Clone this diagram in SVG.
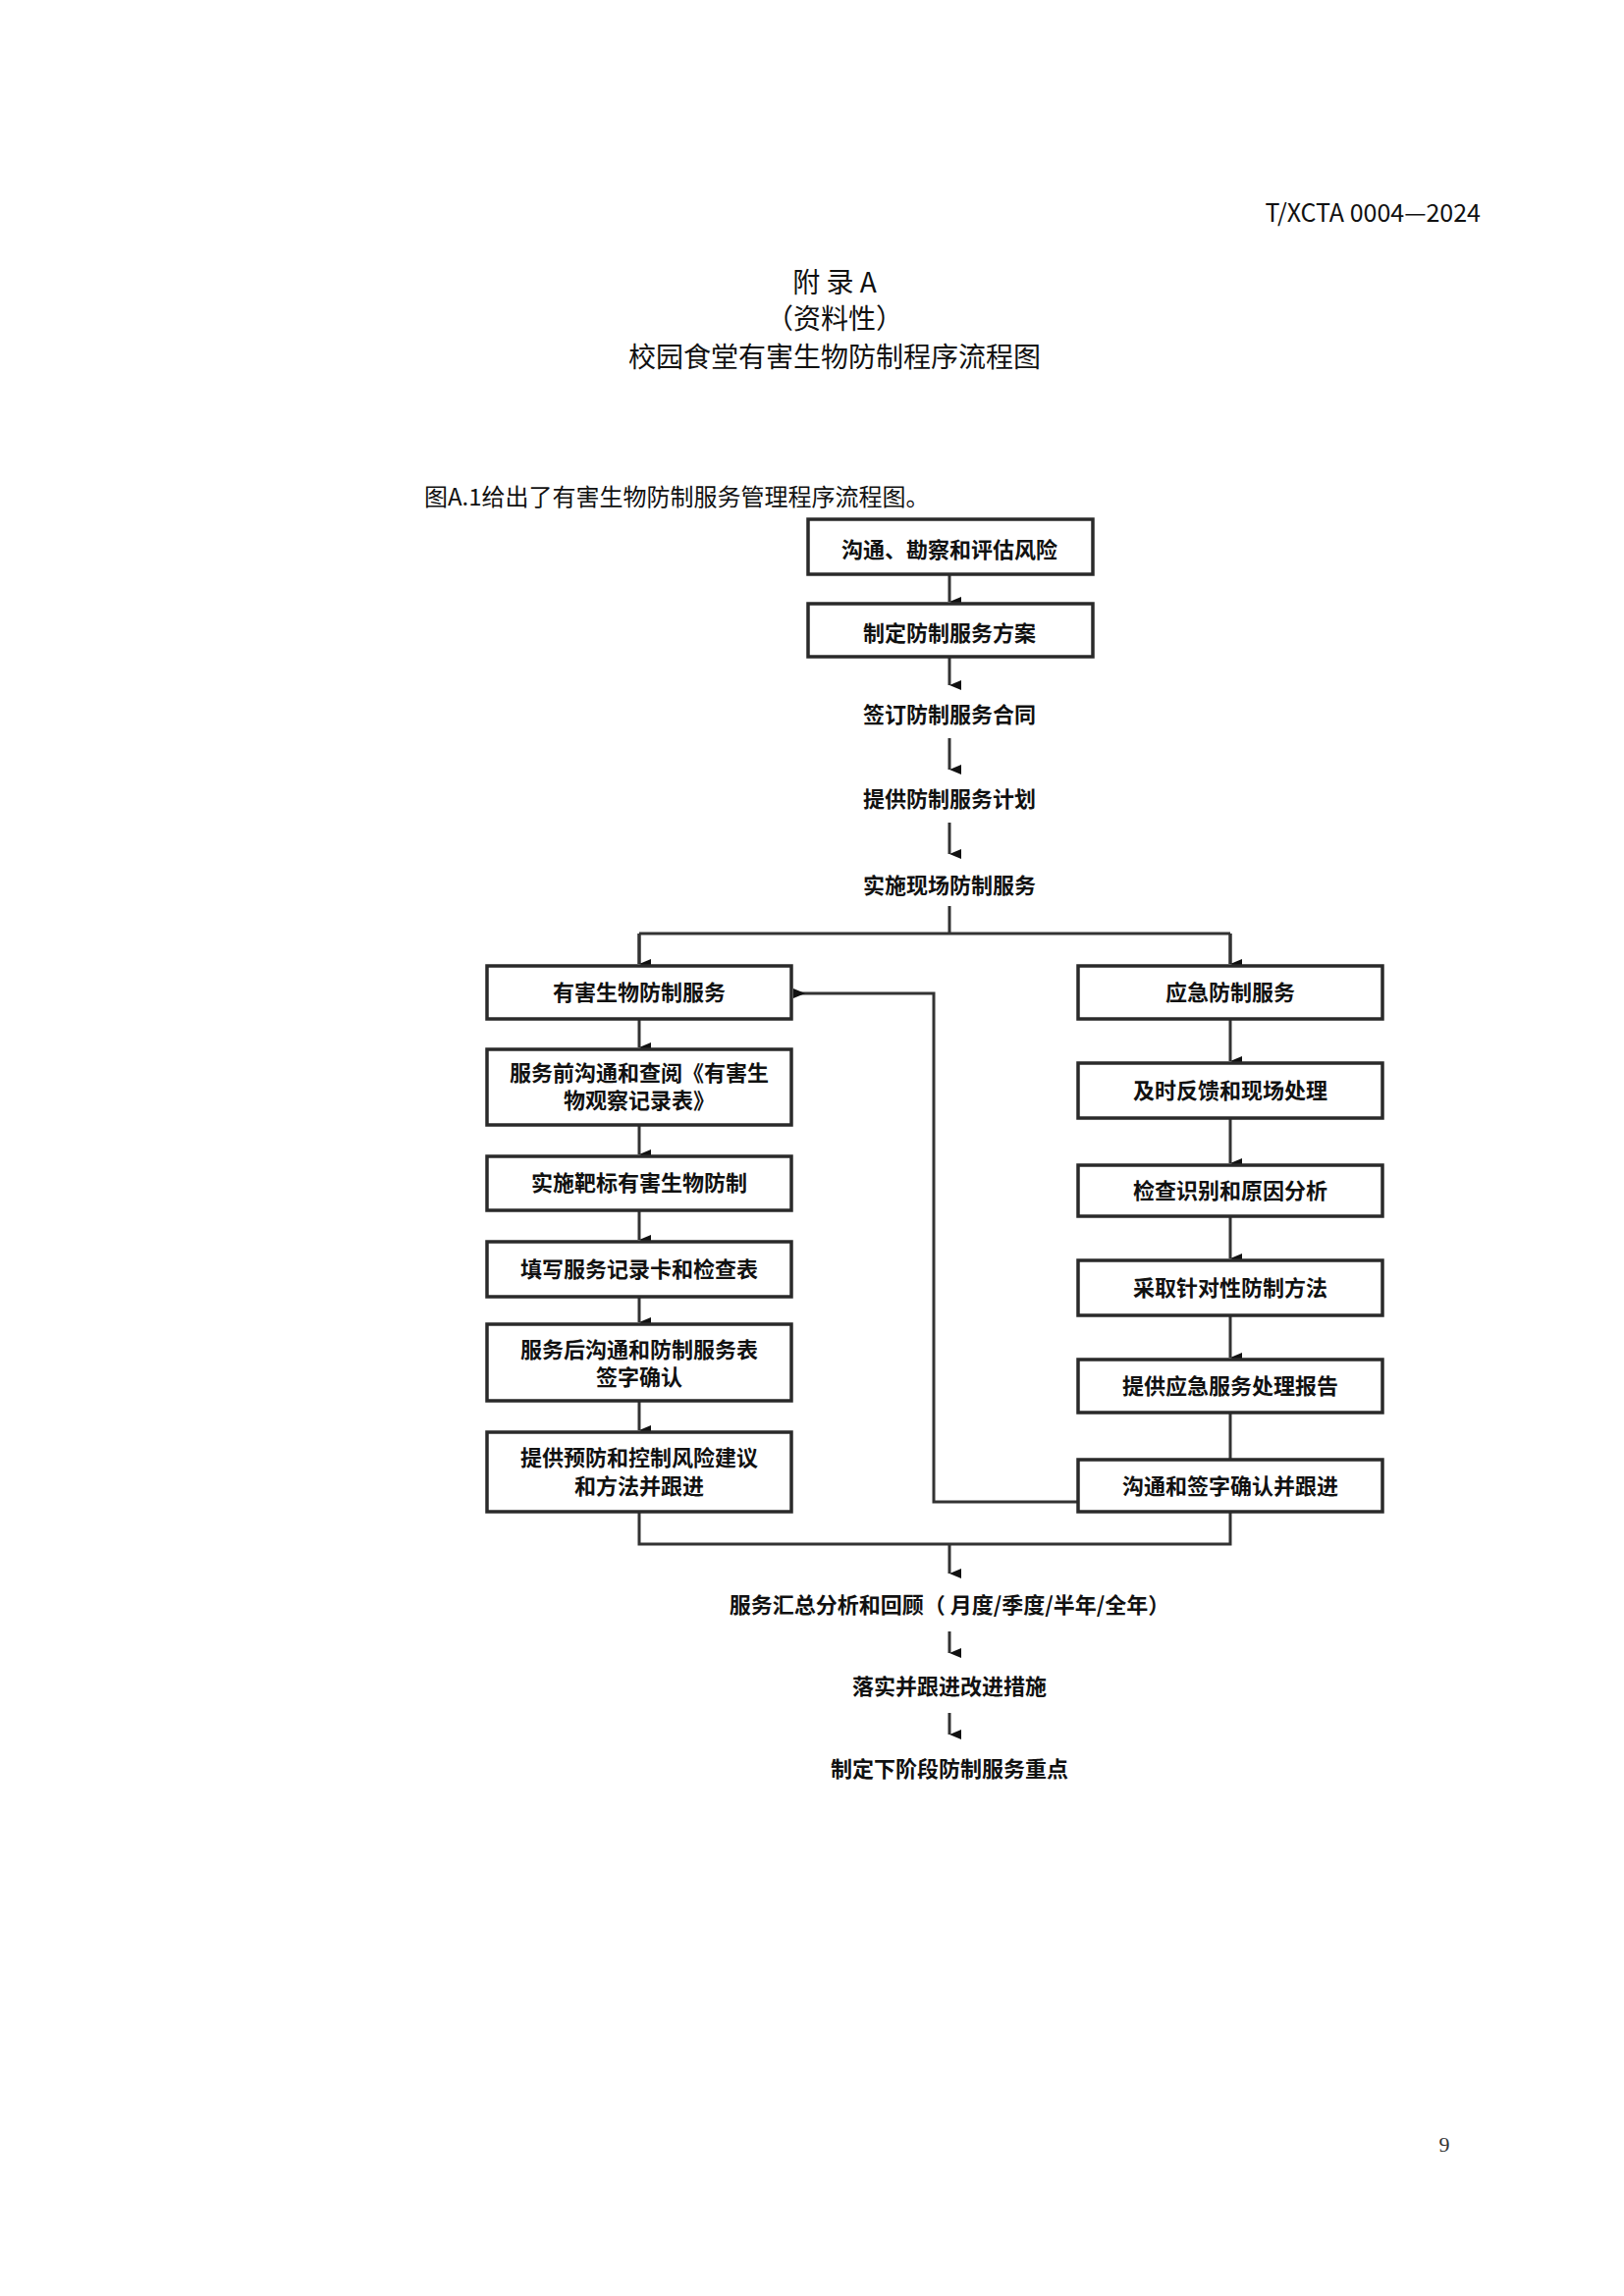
<svg xmlns="http://www.w3.org/2000/svg" width="1654" height="2339" viewBox="0 0 1654 2339">
<style>
.b{fill:#fff;stroke:#2a2a2a;stroke-width:3.5}
.t{font-family:"Noto Sans CJK SC",sans-serif;font-weight:bold;font-size:22px;fill:#111;text-anchor:middle}
.h{font-family:"Noto Sans CJK SC",sans-serif;fill:#111}
.c{fill:none;stroke:#333;stroke-width:3}
</style>
<defs><marker id="a" markerWidth="10" markerHeight="12" refX="5" refY="12" orient="auto-start-reverse" markerUnits="userSpaceOnUse" viewBox="0 0 10 12"><path d="M0,0 L10,0 L5,12 z" fill="#111"/></marker>
<marker id="l" markerWidth="12" markerHeight="10" refX="12" refY="5" orient="auto" markerUnits="userSpaceOnUse" viewBox="0 0 12 10"><path d="M12,5 L0,0 L0,10 z" fill="#111" transform="rotate(180 6 5)"/></marker></defs>
<rect width="1654" height="2339" fill="#fff"/>
<text class="h" x="1508" y="226" font-size="25" text-anchor="end">T/XCTA 0004—2024</text>
<text class="h" x="850" y="298" font-size="28" text-anchor="middle">附  录  A</text>
<text class="h" x="850" y="335" font-size="28" text-anchor="middle">（资料性）</text>
<text class="h" x="850" y="374" font-size="28" text-anchor="middle">校园食堂有害生物防制程序流程图</text>
<text class="h" x="432" y="515" font-size="24">图A.1给出了有害生物防制服务管理程序流程图。</text>
<text x="1471" y="2192" font-family="Liberation Serif,serif" font-size="22" fill="#333" text-anchor="middle">9</text>
<g id="connectors">
<path class="c" d="M967 585V613" marker-end="url(#a)"/>
<path class="c" d="M967 669V698" marker-end="url(#a)"/>
<path class="c" d="M967 752V784" marker-end="url(#a)"/>
<path class="c" d="M967 838V870" marker-end="url(#a)"/>
<path class="c" d="M967 923V951M651 951H1253M651 951V982M1253 951V982" />
<path class="c" d="M651 951V982" marker-end="url(#a)"/>
<path class="c" d="M1253 951V982" marker-end="url(#a)"/>
<path class="c" d="M651 1038V1067" marker-end="url(#a)"/>
<path class="c" d="M651 1146V1176" marker-end="url(#a)"/>
<path class="c" d="M651 1233V1263" marker-end="url(#a)"/>
<path class="c" d="M651 1321V1347" marker-end="url(#a)"/>
<path class="c" d="M651 1427V1457" marker-end="url(#a)"/>
<path class="c" d="M1253 1038V1081" marker-end="url(#a)"/>
<path class="c" d="M1253 1139V1185" marker-end="url(#a)"/>
<path class="c" d="M1253 1239V1282" marker-end="url(#a)"/>
<path class="c" d="M1253 1340V1383" marker-end="url(#a)"/>
<path class="c" d="M1253 1439V1506" marker-end="url(#a)"/>
<path class="c" d="M1098 1530H951V1012H808" marker-end="url(#l)"/>
<path class="c" d="M651 1540V1573H1253V1540M967 1573V1603" marker-end="url(#a)"/>
<path class="c" d="M967 1662V1684" marker-end="url(#a)"/>
<path class="c" d="M967 1745V1767" marker-end="url(#a)"/>
</g>
<g id="n1"><rect class="b" x="823" y="529" width="290" height="56"/><text class="t" x="967" y="568">沟通、勘察和评估风险</text></g>
<g id="n2"><rect class="b" x="823" y="615" width="290" height="54"/><text class="t" x="967" y="653">制定防制服务方案</text></g>
<g id="n3"><text class="t" x="967" y="736">签订防制服务合同</text></g>
<g id="n4"><text class="t" x="967" y="822">提供防制服务计划</text></g>
<g id="n5"><text class="t" x="967" y="910">实施现场防制服务</text></g>
<g id="l1"><rect class="b" x="496" y="984" width="310" height="54"/><text class="t" x="651" y="1019">有害生物防制服务</text></g>
<g id="l2"><rect class="b" x="496" y="1069" width="310" height="77"/><text class="t" x="651" y="1101">服务前沟通和查阅《有害生</text><text class="t" x="651" y="1129">物观察记录表》</text></g>
<g id="l3"><rect class="b" x="496" y="1178" width="310" height="55"/><text class="t" x="651" y="1213">实施靶标有害生物防制</text></g>
<g id="l4"><rect class="b" x="496" y="1265" width="310" height="56"/><text class="t" x="651" y="1301">填写服务记录卡和检查表</text></g>
<g id="l5"><rect class="b" x="496" y="1349" width="310" height="78"/><text class="t" x="651" y="1383">服务后沟通和防制服务表</text><text class="t" x="651" y="1411">签字确认</text></g>
<g id="l6"><rect class="b" x="496" y="1459" width="310" height="81"/><text class="t" x="651" y="1493">提供预防和控制风险建议</text><text class="t" x="651" y="1522">和方法并跟进</text></g>
<g id="r1"><rect class="b" x="1098" y="984" width="310" height="54"/><text class="t" x="1253" y="1019">应急防制服务</text></g>
<g id="r2"><rect class="b" x="1098" y="1083" width="310" height="56"/><text class="t" x="1253" y="1119">及时反馈和现场处理</text></g>
<g id="r3"><rect class="b" x="1098" y="1187" width="310" height="52"/><text class="t" x="1253" y="1221">检查识别和原因分析</text></g>
<g id="r4"><rect class="b" x="1098" y="1284" width="310" height="56"/><text class="t" x="1253" y="1320">采取针对性防制方法</text></g>
<g id="r5"><rect class="b" x="1098" y="1385" width="310" height="54"/><text class="t" x="1253" y="1420">提供应急服务处理报告</text></g>
<g id="r6"><rect class="b" x="1098" y="1487" width="310" height="53"/><text class="t" x="1253" y="1522">沟通和签字确认并跟进</text></g>
<g id="b1"><text class="t" x="967" y="1643">服务汇总分析和回顾（ 月度/季度/半年/全年）</text></g>
<g id="b2"><text class="t" x="967" y="1726">落实并跟进改进措施</text></g>
<g id="b3"><text class="t" x="967" y="1810">制定下阶段防制服务重点</text></g>
</svg>
